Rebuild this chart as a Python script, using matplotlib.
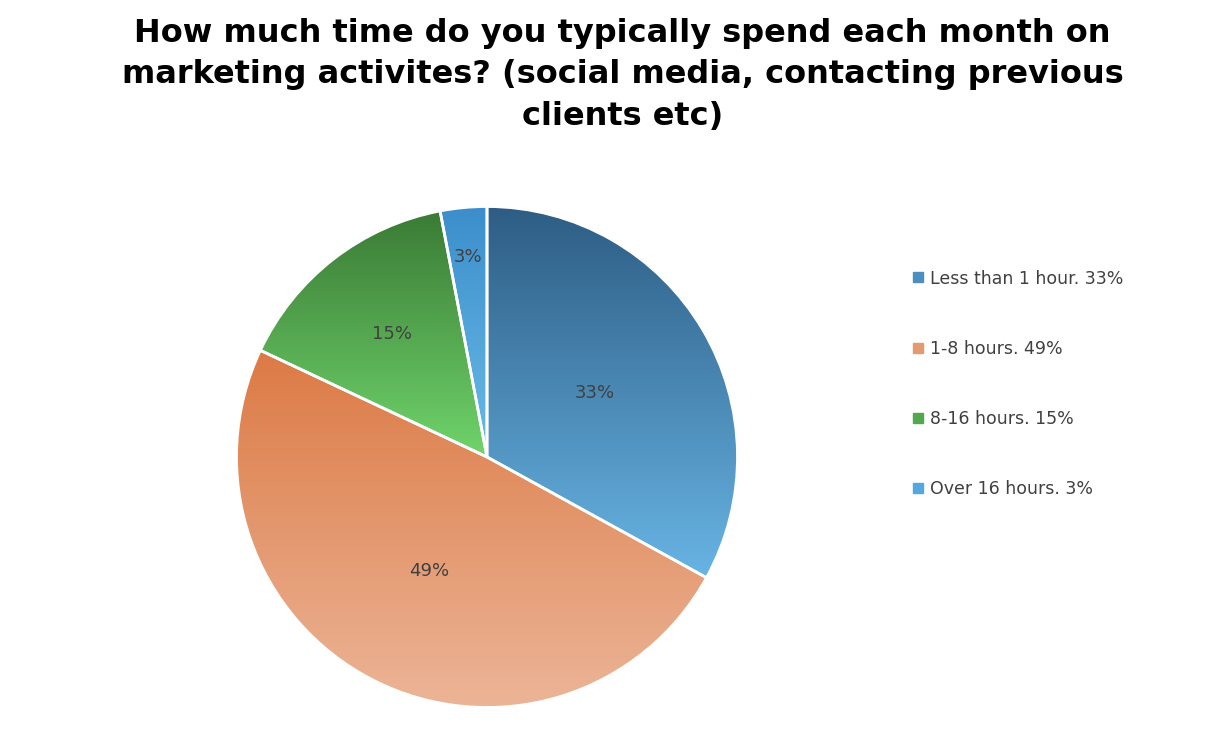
import numpy as np
import matplotlib.pyplot as plt
from matplotlib.colors import LinearSegmentedColormap
from matplotlib.lines import Line2D

labels = ['Less than 1 hour. 33%', '1-8 hours. 49%', '8-16 hours. 15%', 'Over 16 hours. 3%']
values = [33, 49, 15, 3]
label_dist = [0.5, 0.51, 0.62, 0.8]
top_colors = ['#2d5d84', '#dc7a45', '#3a7a35', '#3b8ecb']
bottom_colors = ['#68b4e4', '#ecb699', '#70d46b', '#6abbe8']
legend_colors = ['#4a8fc0', '#e49a70', '#52a84d', '#55a8dd']

fig = plt.figure(figsize=(12.16, 7.36), dpi=100)
fig.text(0.512, 0.975, 'How much time do you typically spend each month on\n'
         'marketing activites? (social media, contacting previous\nclients etc)',
         ha='center', va='top', fontsize=23, fontweight='bold', family='DejaVu Sans',
         linespacing=1.42)

ax = fig.add_axes([(487 - 253) / 1216, (736 - 457 - 253) / 736, 506 / 1216, 506 / 736])
wedges, texts, autotexts = ax.pie(values, startangle=90, counterclock=False,
                                  autopct='%1.0f%%', pctdistance=0.55,
                                  wedgeprops=dict(edgecolor='white', linewidth=2),
                                  textprops=dict(fontsize=13, color='#404040'))

grad = np.linspace(0, 1, 256).reshape(-1, 1)
for w, t, d, c0, c1 in zip(wedges, autotexts, label_dist, top_colors, bottom_colors):
    ang = np.deg2rad((w.theta1 + w.theta2) / 2)
    t.set_position((d * np.cos(ang), d * np.sin(ang)))
    t.set_zorder(10)
    ys = w.get_path().vertices[:, 1]
    cmap = LinearSegmentedColormap.from_list('g', [c0, c1])
    im = ax.imshow(grad, cmap=cmap, extent=(-1.01, 1.01, ys.min(), ys.max()),
                   origin='upper', aspect='auto', zorder=w.get_zorder() - 0.1)
    im.set_clip_path(w)
    w.set_facecolor('none')
    w.set_zorder(w.get_zorder() + 0.5)
ax.set_xlim(-1.01, 1.01)
ax.set_ylim(-1.01, 1.01)
ax.set_aspect('equal')

handles = [Line2D([], [], marker='s', linestyle='none', markersize=7,
                  markerfacecolor=c, markeredgecolor=c) for c in legend_colors]
fig.legend(handles, labels, loc='upper left', bbox_to_anchor=(0.728, 0.655),
           frameon=False, fontsize=12.5, labelspacing=3.0, handletextpad=-0.3,
           labelcolor='#404040')

fig.savefig('out.png', dpi=100)
